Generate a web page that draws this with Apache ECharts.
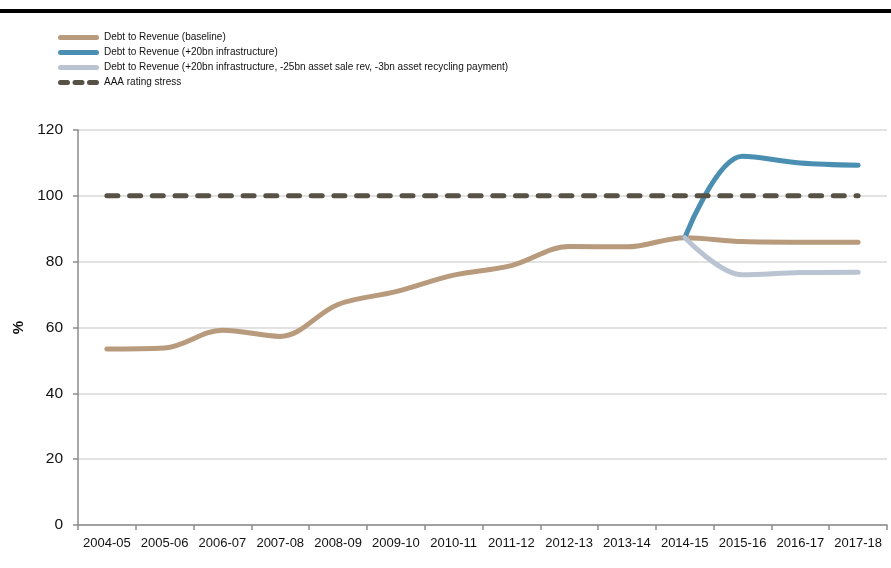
<!DOCTYPE html>
<html>
<head>
<meta charset="utf-8">
<script src="https://cdn.jsdelivr.net/npm/echarts@6/dist/echarts.min.js"></script>
<style>
  html, body { margin: 0; padding: 0; background: #fff; }
  #chart { width: 891px; height: 568px; }
</style>
</head>
<body>
<div id="chart"></div>
<script>
// Financial years on the horizontal axis
const years = ['2004-05', '2005-06', '2006-07', '2007-08', '2008-09', '2009-10', '2010-11',
  '2011-12', '2012-13', '2013-14', '2014-15', '2015-16', '2016-17', '2017-18'];

// Debt to revenue ratios (%)
const baseline = [53.5, 53.8, 59.2, 57.3, 67.0, 70.9, 75.9, 78.8, 84.6, 84.5, 87.3, 86.1, 85.9, 85.9];
const infrastructure = [null, null, null, null, null, null, null, null, null, null, 87.3, 112.0, 110.0, 109.3];
const assetRecycling = [null, null, null, null, null, null, null, null, null, null, 87.3, 76.0, 76.7, 76.8];
const aaaStress = [100, 100, 100, 100, 100, 100, 100, 100, 100, 100, 100, 100, 100, 100];

const yTicks = { min: 0, max: 120, interval: 20 };

const FONT = "'Liberation Sans', Arial, sans-serif";

// Legend swatches: a thick rounded bar, and a three-dash bar for the stress line
const SOLID_ICON = 'path://M2.5,0 H38.5 A2.5,2.5 0 0 1 38.5,5 H2.5 A2.5,2.5 0 0 1 2.5,0 Z';
const DASH_ICON = 'path://M2.5,0 H9.5 A2.5,2.5 0 0 1 9.5,5 H2.5 A2.5,2.5 0 0 1 2.5,0 Z ' +
  'M17,0 H24 A2.5,2.5 0 0 1 24,5 H17 A2.5,2.5 0 0 1 17,0 Z ' +
  'M31.5,0 H38.5 A2.5,2.5 0 0 1 38.5,5 H31.5 A2.5,2.5 0 0 1 31.5,0 Z';

const NAMES = [
  'Debt to Revenue (baseline)',
  'Debt to Revenue (+20bn infrastructure)',
  'Debt to Revenue (+20bn infrastructure, -25bn asset sale rev, -3bn asset recycling payment)',
  'AAA rating stress'
];
const COLORS = ['#b89a7c', '#4a8fb2', '#b9c3d2', '#575146'];

const chart = echarts.init(document.getElementById('chart'), null, { renderer: 'canvas' });

function lineSeries(i, data, extra) {
  return Object.assign({
    name: NAMES[i],
    type: 'line',
    data: data,
    smooth: 0.35,
    showSymbol: false,
    symbol: 'none',
    lineStyle: { color: COLORS[i], width: 5, cap: 'round', join: 'round' },
    itemStyle: { color: COLORS[i] },
    z: 2 + i
  }, extra || {});
}

chart.setOption({
  backgroundColor: '#ffffff',
  animation: false,
  textStyle: { fontFamily: FONT, color: '#111' },
  graphic: [{
    type: 'rect',
    shape: { x: 0, y: 9, width: 891, height: 4 },
    style: { fill: '#000' },
    silent: true
  }],
  legend: {
    orient: 'vertical',
    left: 53,
    top: 25,
    itemWidth: 41,
    itemHeight: 5,
    itemGap: 0,
    textStyle: { fontFamily: FONT, fontSize: 10, lineHeight: 15, color: '#111' },
    data: [
      { name: NAMES[0], icon: SOLID_ICON },
      { name: NAMES[1], icon: SOLID_ICON },
      { name: NAMES[2], icon: SOLID_ICON },
      { name: NAMES[3], icon: DASH_ICON }
    ]
  },
  grid: { left: 78, right: 4, top: 130, bottom: 43, containLabel: false },
  xAxis: {
    type: 'category',
    data: years,
    boundaryGap: true,
    axisLine: { lineStyle: { color: '#8c8c8c', width: 1.5 } },
    axisTick: { show: true, length: 5, lineStyle: { color: '#8c8c8c', width: 1.5 } },
    axisLabel: { fontFamily: FONT, fontSize: 13, color: '#111', margin: 12, interval: 0 },
    splitLine: { show: false }
  },
  yAxis: {
    type: 'value',
    min: yTicks.min,
    max: yTicks.max,
    interval: yTicks.interval,
    name: '%',
    nameLocation: 'middle',
    nameRotate: 90,
    nameGap: 51,
    nameTextStyle: { fontFamily: FONT, fontSize: 15, fontWeight: 'bold', color: '#111' },
    axisLine: { show: true, lineStyle: { color: '#8c8c8c', width: 1.5 } },
    axisTick: { show: true, length: 5, lineStyle: { color: '#8c8c8c', width: 1.5 } },
    axisLabel: { fontFamily: FONT, fontSize: 15.5, color: '#111', margin: 15 },
    splitLine: { show: true, lineStyle: { color: '#d9d9d9', width: 1.5 } }
  },
  series: [
    lineSeries(0, baseline),
    lineSeries(1, infrastructure),
    lineSeries(2, assetRecycling),
    lineSeries(3, aaaStress, {
      smooth: false,
      lineStyle: { color: COLORS[3], width: 5, type: [11, 11.7], cap: 'round' }
    })
  ]
});
</script>
</body>
</html>
